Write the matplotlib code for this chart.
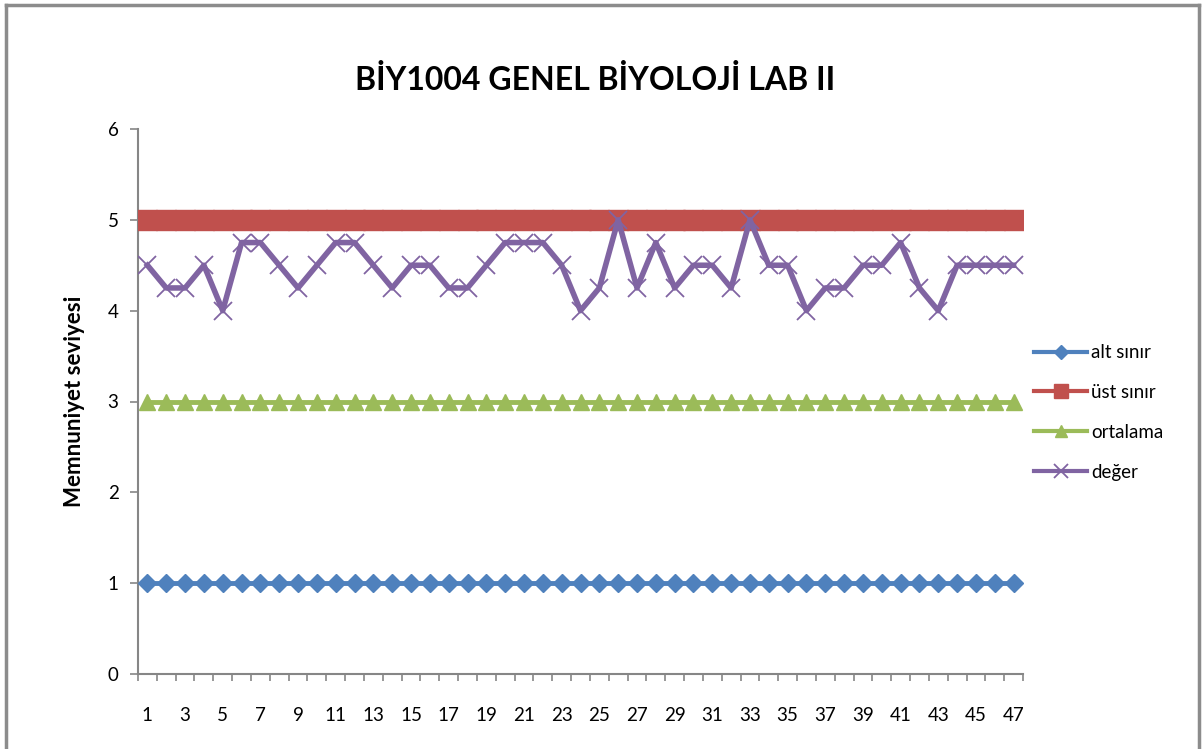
import numpy as np
import matplotlib
matplotlib.use("Agg")
import matplotlib.pyplot as plt
from matplotlib.lines import Line2D

plt.rcParams['font.family'] = ['Lato', 'DejaVu Sans']

# veriler
kategoriler = list(range(1, 48))
alt_sinir = [1] * 47
ust_sinir = [5] * 47
ortalama = [3] * 47
deger = [4.5, 4.25, 4.25, 4.5, 4.0, 4.75, 4.75, 4.5, 4.25, 4.5,
         4.75, 4.75, 4.5, 4.25, 4.5, 4.5, 4.25, 4.25, 4.5, 4.75,
         4.75, 4.75, 4.5, 4.0, 4.25, 5.0, 4.25, 4.75, 4.25, 4.5,
         4.5, 4.25, 5.0, 4.5, 4.5, 4.0, 4.25, 4.25, 4.5, 4.5,
         4.75, 4.25, 4.0, 4.5, 4.5, 4.5, 4.5]
y_ticks = [0, 1, 2, 3, 4, 5, 6]

fig = plt.figure(figsize=(12.03, 7.49), dpi=100)
W, H = 1203, 749
ax = fig.add_axes([138 / W, 1 - 674 / H, (1023 - 138) / W, (674 - 129) / H])

blue, red, green, purple = '#4F81BD', '#C0504D', '#9BBB59', '#8064A2'

ax.plot(kategoriler, alt_sinir, color=blue, lw=3.5, marker='D', ms=9,
        mfc=blue, mec=blue, label='alt sınır', zorder=3)
ax.plot(kategoriler, ust_sinir, color=red, lw=3.5, marker='s', ms=14,
        mfc=red, mec=red, label='üst sınır', zorder=3)
ax.plot(kategoriler, ortalama, color=green, lw=3.5, marker='^', ms=11,
        mfc=green, mec=green, label='ortalama', zorder=3)
ax.plot(kategoriler, deger, color=purple, lw=4, marker='x', ms=13,
        mew=1.3, mec=purple, label='değer', zorder=4)

ax.set_xlim(0.5, 47.5)
ax.set_ylim(0, 6)
ax.set_yticks(y_ticks)
ax.set_xticks(kategoriler[::2])
ax.set_xticks(np.arange(0.5, 48, 1), minor=True)
ax.tick_params(axis='x', which='major', length=0, pad=24, labelsize=13.5)
ax.tick_params(axis='x', which='minor', length=5, color='#868686', width=1.2)
ax.tick_params(axis='y', length=6, color='#868686', width=1.2, pad=8, labelsize=13.5)

for s in ['top', 'right']:
    ax.spines[s].set_visible(False)
for s in ['left', 'bottom']:
    ax.spines[s].set_color('#868686')
    ax.spines[s].set_linewidth(1.5)

ax.set_ylabel('Memnuniyet seviyesi', fontsize=16, fontweight='bold', labelpad=16)
fig.text(595 / W, 1 - 80 / H, 'BİY1004 GENEL BİYOLOJİ LAB II', fontsize=23,
         fontweight='bold', ha='center', va='center')

leg = ax.legend(loc='center left', bbox_to_anchor=(1.0, 0.48), frameon=False,
                fontsize=13.5, handlelength=2.8, labelspacing=1.22,
                handletextpad=0.25, borderaxespad=0.2, markerscale=0.75)
for lh in leg.get_lines():
    lh.set_linewidth(3)

# dış çerçeve
kw = dict(color='#8C8C8C', lw=2.5, transform=fig.transFigure)
fig.add_artist(Line2D([6 / W, 6 / W], [0, 1 - 5 / H], **kw))
fig.add_artist(Line2D([6 / W, 1199 / W], [1 - 5 / H, 1 - 5 / H], **kw))
fig.add_artist(Line2D([1199 / W, 1199 / W], [0, 1 - 5 / H], **kw))

fig.savefig('out.png', dpi=100)
